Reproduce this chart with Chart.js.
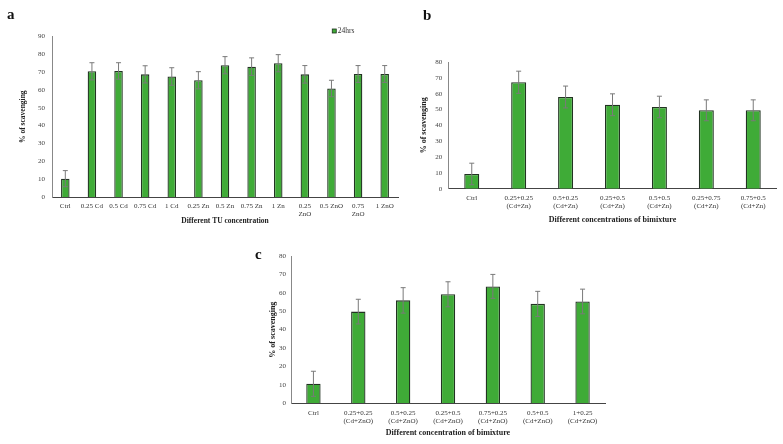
<!DOCTYPE html>
<html>
<head>
<meta charset="utf-8">
<script src="https://cdn.jsdelivr.net/npm/chart.js@4.4.1/dist/chart.umd.min.js"></script>
<style>
    body { margin: 0; background: #fff; }
    #page { position: relative; width: 783px; height: 444px; overflow: hidden; }
    .panel { position: absolute; }
    .letter { position: absolute; font: bold 15px "Liberation Serif", serif; line-height: 15px; color: #111; }
</style>
</head>
<body>
<div id="page">
    <div class="panel" style="left:0;top:0;width:400px;height:230px"><canvas id="chartA"></canvas></div>
    <div class="panel" style="left:400px;top:0;width:383px;height:230px"><canvas id="chartB"></canvas></div>
    <div class="panel" style="left:220px;top:230px;width:400px;height:214px"><canvas id="chartC"></canvas></div>
    <div class="letter" style="left:7px;top:7px">a</div>
    <div class="letter" style="left:423px;top:8px">b</div>
    <div class="letter" style="left:255px;top:247px">c</div>
</div>
<script>
// panel a - single compounds
const labelsA = ['Ctrl', '0.25 Cd', '0.5 Cd', '0.75 Cd', '1 Cd', '0.25 Zn', '0.5 Zn', '0.75 Zn', '1 Zn',
    ['0.25', 'ZnO'], '0.5 ZnO', ['0.75', 'ZnO'], '1 ZnO'];
const valuesA = [10.4, 70.3, 70.5, 68.6, 67.4, 65.3, 73.7, 72.9, 74.8, 68.6, 60.7, 68.8, 68.8];
const errorsA = [4.5, 4.8, 4.6, 4.8, 4.9, 4.8, 4.8, 4.9, 4.8, 4.9, 4.6, 4.7, 4.7];

// panel b - Cd + Zn
const labelsB = ['Ctrl', ['0.25+0.25', '(Cd+Zn)'], ['0.5+0.25', '(Cd+Zn)'], ['0.25+0.5', '(Cd+Zn)'],
    ['0.5+0.5', '(Cd+Zn)'], ['0.25+0.75', '(Cd+Zn)'], ['0.75+0.5', '(Cd+Zn)']];
const valuesB = [9.3, 67.2, 57.9, 53.0, 51.6, 49.5, 49.5];
const errorsB = [6.8, 7.0, 6.9, 6.9, 6.8, 6.6, 6.6];

// panel c - Cd + ZnO
const labelsC = ['Ctrl', ['0.25+0.25', '(Cd+ZnO)'], ['0.5+0.25', '(Cd+ZnO)'], ['0.25+0.5', '(Cd+ZnO)'],
    ['0.75+0.25', '(Cd+ZnO)'], ['0.5+0.5', '(Cd+ZnO)'], ['1+0.25', '(Cd+ZnO)']];
const valuesC = [10.6, 49.8, 55.9, 59.2, 63.5, 54.0, 55.3];
const errorsC = [6.8, 6.7, 6.9, 6.8, 6.5, 6.8, 6.7];

const FONT = '"Liberation Serif", "Times New Roman", serif';
const GREEN = '#3fab37';

const errorBars = {
    id: 'errorBars',
    afterDatasetsDraw(chart) {
        const ctx = chart.ctx;
        const y = chart.scales.y;
        chart.data.datasets.forEach((ds, i) => {
            if (!ds.errors) return;
            chart.getDatasetMeta(i).data.forEach((bar, j) => {
                const v = ds.data[j], e = ds.errors[j];
                const top = y.getPixelForValue(v + e);
                const bottom = y.getPixelForValue(v - e);
                ctx.save();
                ctx.strokeStyle = '#7a7a7a';
                ctx.lineWidth = 1;
                ctx.beginPath();
                ctx.moveTo(bar.x, top);
                ctx.lineTo(bar.x, bottom);
                ctx.moveTo(bar.x - 2.5, top);
                ctx.lineTo(bar.x + 2.5, top);
                ctx.moveTo(bar.x - 2.5, bottom);
                ctx.lineTo(bar.x + 2.5, bottom);
                ctx.stroke();
                ctx.restore();
            });
        });
    }
};

// small legend drawn above the plot (only used by panel a)
const miniLegend = {
    id: 'miniLegend',
    afterDraw(chart, args, opts) {
        if (!opts.show) return;
        const ctx = chart.ctx;
        const ds = chart.data.datasets[0];
        const area = chart.chartArea;
        const x = area.left + (area.right - area.left) * opts.at;
        const yy = opts.y;
        ctx.save();
        ctx.fillStyle = ds.backgroundColor;
        ctx.strokeStyle = '#1f2f1f';
        ctx.lineWidth = 0.8;
        ctx.fillRect(x, yy - 2, 4, 4);
        ctx.strokeRect(x, yy - 2, 4, 4);
        ctx.fillStyle = '#333';
        ctx.font = '7.5px ' + FONT;
        ctx.textBaseline = 'middle';
        ctx.fillText(ds.label, x + 5.5, yy);
        ctx.restore();
    }
};

function makePanel(id, labels, values, errors, g) {
    return new Chart(document.getElementById(id), {
        type: 'bar',
        data: {
            labels: labels,
            datasets: [{
                label: '24hrs',
                data: values,
                errors: errors,
                backgroundColor: GREEN,
                borderColor: '#223322',
                borderWidth: { top: 1.3, left: 1.3, right: 1.3, bottom: 0 },
                borderSkipped: 'bottom',
                categoryPercentage: 1,
                barPercentage: 0.32
            }]
        },
        options: {
            responsive: true,
            maintainAspectRatio: false,
            animation: false,
            layout: { padding: g.padding },
            plugins: {
                legend: { display: false },
                tooltip: { enabled: false },
                miniLegend: g.legend || { show: false }
            },
            scales: {
                x: {
                    grid: { display: false, drawTicks: false },
                    border: { display: true, color: '#444', width: 1 },
                    ticks: {
                        color: '#333', padding: g.xTickPad, maxRotation: 0, autoSkip: false,
                        font: { family: FONT, size: 7 }
                    },
                    title: {
                        display: true, text: g.xTitle, color: '#222',
                        font: { family: FONT, size: g.titleSize, weight: 'bold' },
                        padding: { top: 0, bottom: g.xTitlePad }
                    },
                    afterFit: function (scale) { scale.height = g.xHeight; }
                },
                y: {
                    min: 0,
                    max: g.yMax,
                    grid: { display: false, drawTicks: false },
                    border: { display: true, color: '#888', width: 1 },
                    ticks: {
                        stepSize: 10, color: '#444', padding: g.yTickPad,
                        font: { family: FONT, size: 7 }
                    },
                    title: {
                        display: true, text: '% of scavenging', color: '#222',
                        font: { family: FONT, size: g.titleSize, weight: 'bold' },
                        padding: { top: g.yTitlePad, bottom: 0 }
                    },
                    afterFit: function (scale) { scale.width = g.yWidth; }
                }
            }
        },
        plugins: [errorBars, miniLegend]
    });
}

makePanel('chartA', labelsA, valuesA, errorsA, {
    padding: { left: 0, right: 2, top: 36, bottom: 0 },
    yWidth: 52, xHeight: 32.7, yMax: 90,
    xTickPad: 4.5, yTickPad: 7, yTitlePad: 18.5, xTitlePad: 4.5, titleSize: 7.5,
    xTitle: 'Different TU concentration',
    legend: { show: true, at: 0.81, y: 31 }
});

makePanel('chartB', labelsB, valuesB, errorsB, {
    padding: { left: 0, right: 6.3, top: 62, bottom: 0 },
    yWidth: 48.3, xHeight: 41.3, yMax: 80,
    xTickPad: 4.8, yTickPad: 6, yTitlePad: 19, xTitlePad: 5.5, titleSize: 8,
    xTitle: 'Different concentrations of bimixture'
});

makePanel('chartC', labelsC, valuesC, errorsC, {
    padding: { left: 0, right: 15, top: 26, bottom: 0 },
    yWidth: 71, xHeight: 40.7, yMax: 80,
    xTickPad: 5.2, yTickPad: 5, yTitlePad: 48.5, xTitlePad: 6.2, titleSize: 8,
    xTitle: 'Different concentration of bimixture'
});
</script>
</body>
</html>
